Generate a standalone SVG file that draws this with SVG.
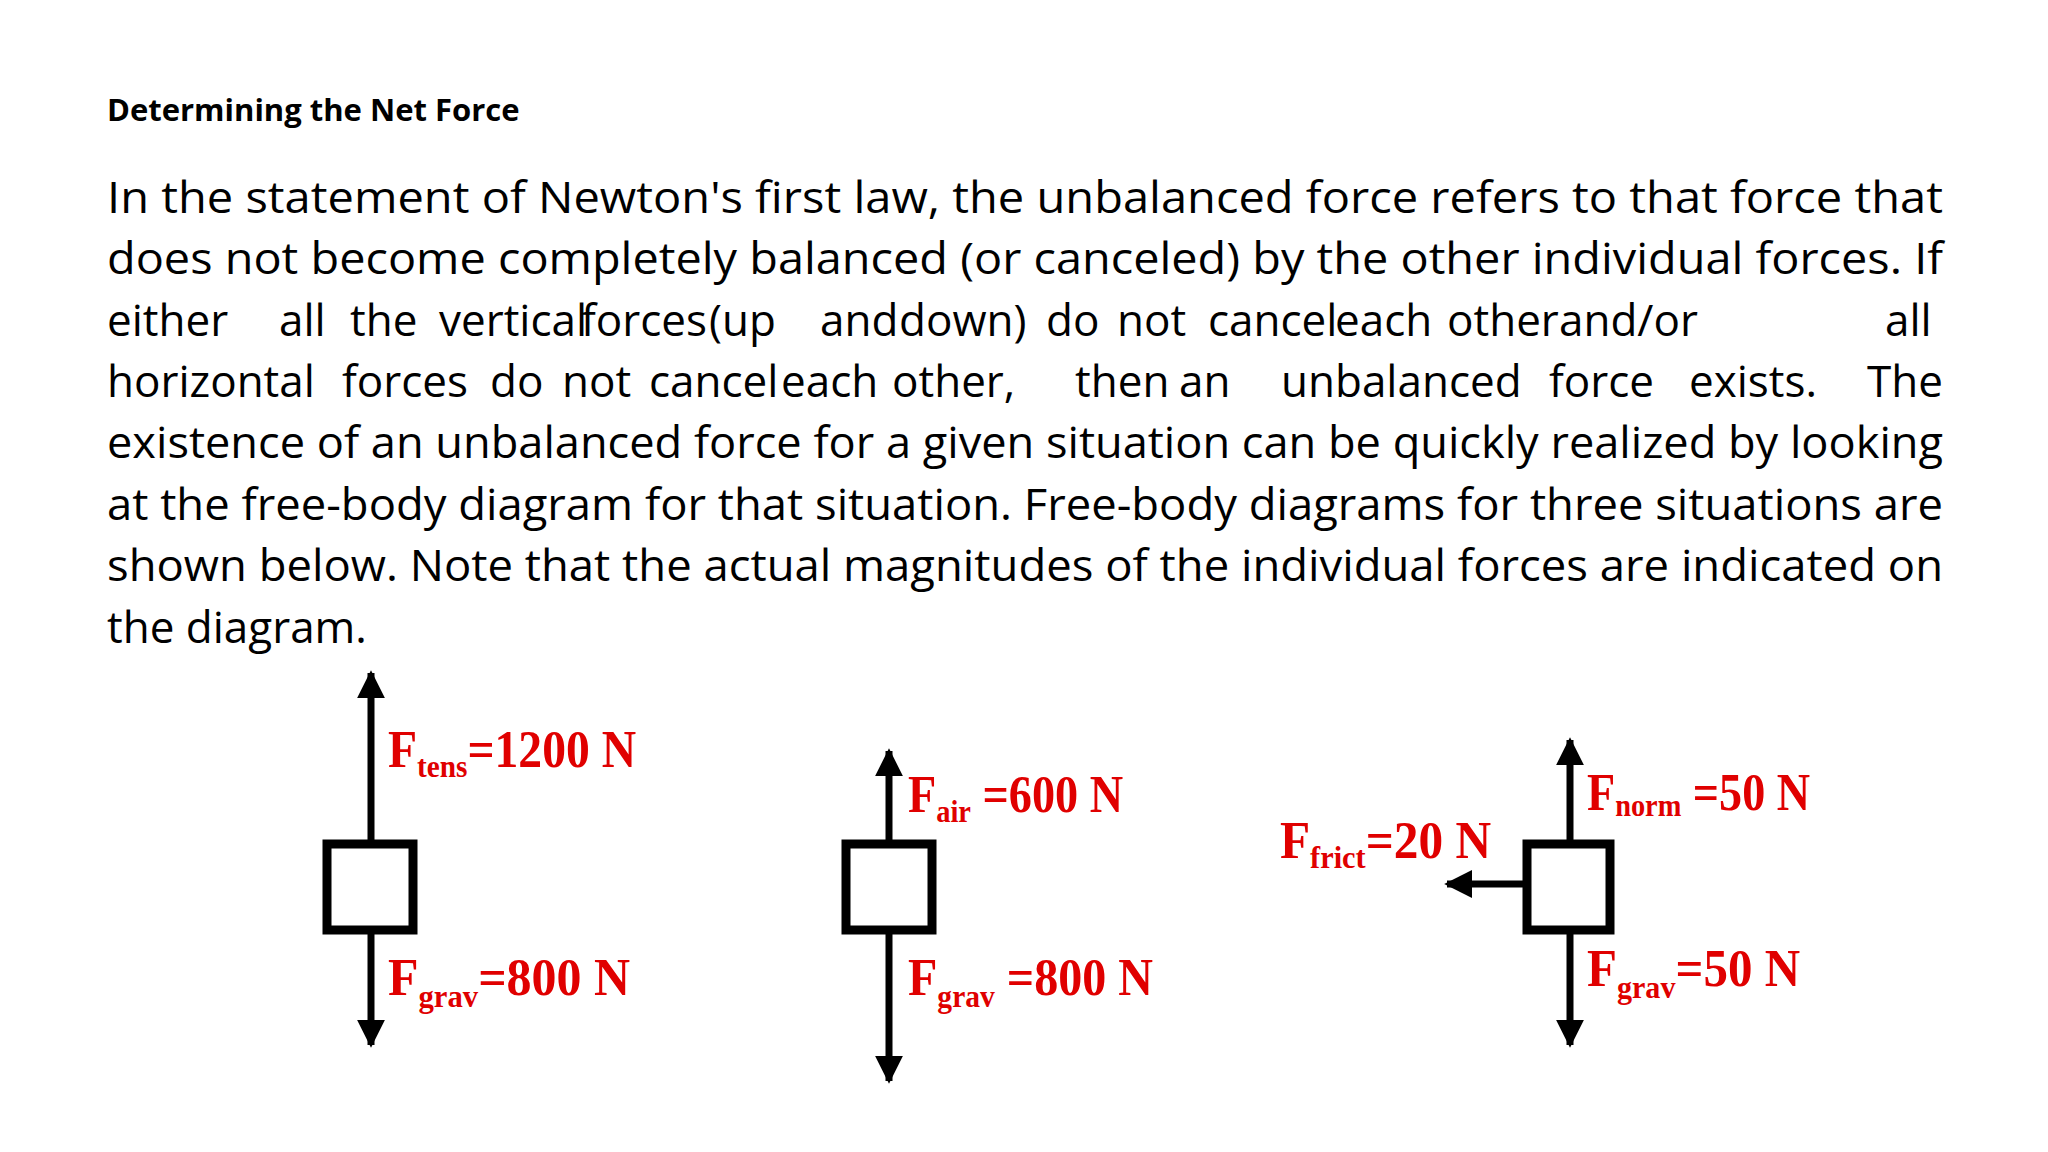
<svg xmlns="http://www.w3.org/2000/svg" width="2048" height="1152" viewBox="0 0 2048 1152">
<style>
.title{font-family:"Open Sans","Noto Sans",sans-serif;font-weight:bold;font-size:31px;fill:#000}
.body{font-family:"Open Sans","Noto Sans",sans-serif;font-size:44px;fill:#000}
.lbl{font-family:"Liberation Serif",serif;font-weight:bold;font-size:52px;fill:#e00000}
.sub{font-size:32px}
.box{fill:#fff;stroke:#000;stroke-width:9}
.ln{stroke:#000;stroke-width:7;fill:none}
</style>
<defs>
<marker id="ah" viewBox="0 0 10 10" refX="9" refY="5" markerWidth="4" markerHeight="4" orient="auto" markerUnits="strokeWidth">
<path d="M0,0 L10,5 L0,10 z" fill="#000"/>
</marker>
</defs>
<rect width="2048" height="1152" fill="#fff"/>
<text class="title" x="107" y="121">Determining the Net Force</text>
<g id="body">
<text class="body" x="107" y="213" textLength="1836" lengthAdjust="spacingAndGlyphs">In the statement of Newton's first law, the unbalanced force refers to that force that</text>
<text class="body" x="107" y="274" textLength="1836" lengthAdjust="spacingAndGlyphs">does not become completely balanced (or canceled) by the other individual forces. If</text>
<text class="body" y="336"><tspan x="107">either</tspan><tspan x="279">all</tspan><tspan x="350">the</tspan><tspan x="439">vertical</tspan><tspan x="581">forces</tspan><tspan x="709">(up</tspan><tspan x="820">and</tspan><tspan x="899">down)</tspan><tspan x="1046">do</tspan><tspan x="1117">not</tspan><tspan x="1208">cancel</tspan><tspan x="1335">each</tspan><tspan x="1447">other</tspan><tspan x="1559">and/or</tspan><tspan x="1885">all</tspan></text>
<text class="body" y="397"><tspan x="107">horizontal</tspan><tspan x="342">forces</tspan><tspan x="490">do</tspan><tspan x="562">not</tspan><tspan x="649">cancel</tspan><tspan x="781">each</tspan><tspan x="892">other,</tspan><tspan x="1075">then</tspan><tspan x="1179">an</tspan><tspan x="1281">unbalanced</tspan><tspan x="1549">force</tspan><tspan x="1689">exists.</tspan><tspan x="1867">The</tspan></text>
<text class="body" x="107" y="458" textLength="1836" lengthAdjust="spacingAndGlyphs">existence of an unbalanced force for a given situation can be quickly realized by looking</text>
<text class="body" x="107" y="520" textLength="1836" lengthAdjust="spacingAndGlyphs">at the free-body diagram for that situation. Free-body diagrams for three situations are</text>
<text class="body" x="107" y="581" textLength="1836" lengthAdjust="spacingAndGlyphs">shown below. Note that the actual magnitudes of the individual forces are indicated on</text>
<text class="body" x="107" y="643">the diagram.</text>
</g>
<g id="connectors">
<line class="ln" x1="371" y1="840" x2="371" y2="673" marker-end="url(#ah)"/>
<line class="ln" x1="371" y1="934" x2="371" y2="1045" marker-end="url(#ah)"/>
<line class="ln" x1="889" y1="840" x2="889" y2="751" marker-end="url(#ah)"/>
<line class="ln" x1="889" y1="934" x2="889" y2="1081" marker-end="url(#ah)"/>
<line class="ln" x1="1570" y1="840" x2="1570" y2="740" marker-end="url(#ah)"/>
<line class="ln" x1="1570" y1="934" x2="1570" y2="1045" marker-end="url(#ah)"/>
<line class="ln" x1="1523" y1="884" x2="1447" y2="884" marker-end="url(#ah)"/>
</g>
<g id="box1"><rect class="box" x="327" y="844" width="86" height="86"/></g>
<g id="box2"><rect class="box" x="846" y="844" width="86" height="86"/></g>
<g id="box3"><rect class="box" x="1527" y="844" width="83" height="86"/></g>
<g id="labels1">
<text class="lbl" x="388" y="767" textLength="248" lengthAdjust="spacingAndGlyphs">F<tspan class="sub" dy="10">tens</tspan><tspan dy="-10">=1200 N</tspan></text>
<text class="lbl" x="388" y="995" textLength="242" lengthAdjust="spacingAndGlyphs">F<tspan class="sub" dy="12">grav</tspan><tspan dy="-12">=800 N</tspan></text>
</g>
<g id="labels2">
<text class="lbl" x="908" y="812" textLength="215" lengthAdjust="spacingAndGlyphs">F<tspan class="sub" dy="10">air</tspan><tspan dy="-10"> =600 N</tspan></text>
<text class="lbl" x="908" y="995" textLength="245" lengthAdjust="spacingAndGlyphs">F<tspan class="sub" dy="12">grav</tspan><tspan dy="-12"> =800 N</tspan></text>
</g>
<g id="labels3">
<text class="lbl" x="1587" y="810" textLength="223" lengthAdjust="spacingAndGlyphs">F<tspan class="sub" dy="6">norm</tspan><tspan dy="-6"> =50 N</tspan></text>
<text class="lbl" x="1280" y="858" textLength="211" lengthAdjust="spacingAndGlyphs">F<tspan class="sub" dy="10">frict</tspan><tspan dy="-10">=20 N</tspan></text>
<text class="lbl" x="1587" y="986" textLength="213" lengthAdjust="spacingAndGlyphs">F<tspan class="sub" dy="12">grav</tspan><tspan dy="-12">=50 N</tspan></text>
</g>
</svg>
